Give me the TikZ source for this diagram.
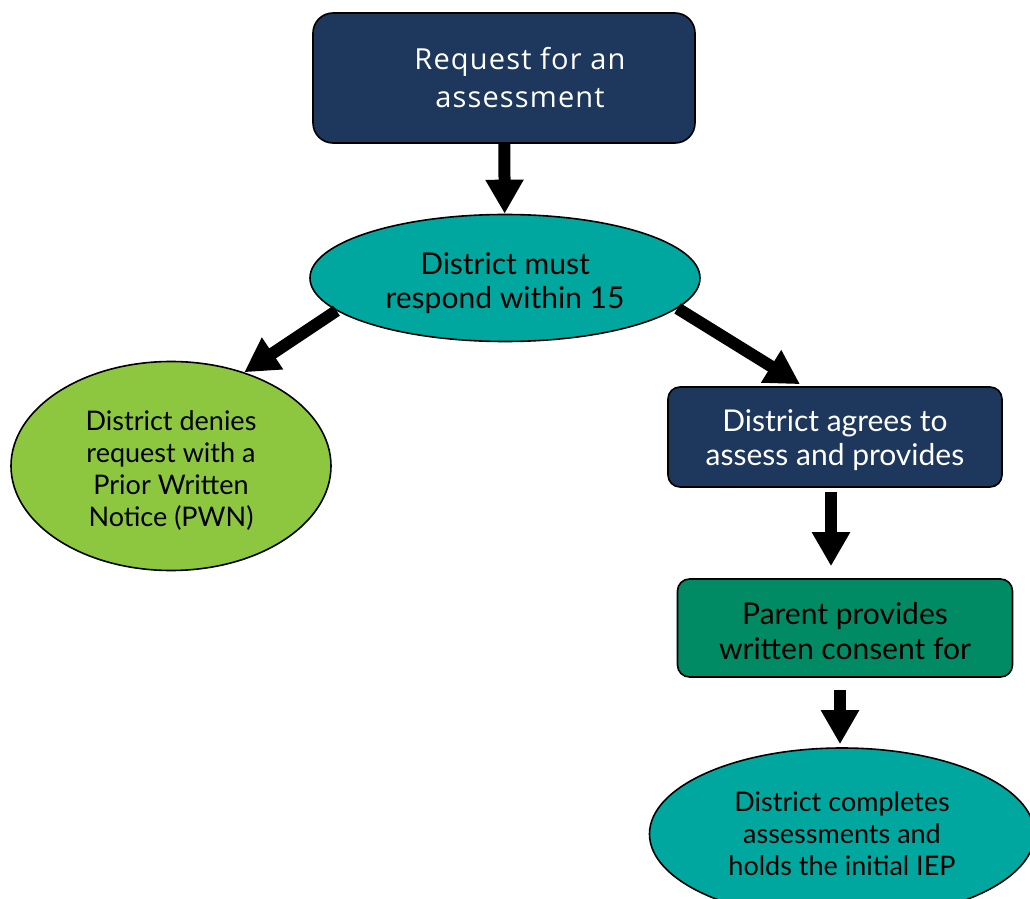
\documentclass[tikz,border=0pt]{standalone}
\usepackage{fontspec}
\setmainfont{Lato}
\newfontfamily\reqfont[LetterSpace=4.0]{Open Sans}
\usetikzlibrary{arrows.meta,shapes.geometric}

\definecolor{navyfill}{HTML}{1E375C}
\definecolor{tealfill}{HTML}{00A79E}
\definecolor{limefill}{HTML}{8DC63F}
\definecolor{greenfill}{HTML}{008B64}

\begin{document}
\begin{tikzpicture}[x=0.5pt,y=-0.5pt,line width=0.8pt,>={Triangle[width=18pt,length=17pt]}]
	\tikzstyle{box}=[rectangle, rounded corners=6pt, draw=black, align=center, inner sep=0pt]
	\tikzstyle{oval}=[ellipse, draw=black, align=center, inner sep=0pt]
	\tikzstyle{flow}=[->, line width=6pt]

	\useasboundingbox (0,0) rectangle (1030,899);
	\clip (0,0) rectangle (1030,899);

	\node [box, rounded corners=10pt, fill=navyfill, minimum width=191pt, minimum height=65pt,
		label={[text=white, align=center, xshift=8pt, font=\reqfont\fontsize{14.5}{19}\selectfont]center:Request for an\\assessment}] (req) at (504,78) {};
	\node [oval, fill=tealfill, minimum width=195pt, minimum height=63.5pt,
		label={[align=center, yshift=-2.5pt, font=\fontsize{15}{17}\selectfont]center:District must\\respond within 15}] (must) at (505,278) {};
	\node [oval, fill=limefill, minimum width=160pt, minimum height=104.5pt,
		label={[align=center, yshift=-2.5pt, font=\fontsize{13.5}{16}\selectfont]center:District denies\\request with a\\Prior Written\\Notice (PWN)}] (deny) at (171,466) {};
	\node [box, fill=navyfill, minimum width=167pt, minimum height=50pt,
		label={[text=white, align=center, yshift=-1.5pt, font=\fontsize{15}{17}\selectfont]center:District agrees to\\assess and provides}] (agree) at (835,437) {};
	\node [box, fill=greenfill, minimum width=167.5pt, minimum height=49pt,
		label={[align=center, yshift=-1.5pt, font=\fontsize{15}{17.5}\selectfont]center:Parent provides\\written consent for}] (parent) at (845,628) {};
	\node [oval, fill=tealfill, minimum width=192.5pt, minimum height=86pt, font=\fontsize{13.5}{16}\selectfont] (done) at (842,834) {District completes\\assessments and\\holds the initial IEP};

	\draw [flow] (req) -- (must);
	\draw [flow] (must.191) -- (deny.52);
	\draw [flow] (must.-10) -- ([xshift=-17.5pt,yshift=1pt]agree.north);
	\draw [flow, shorten <=2pt, shorten >=6pt] ([xshift=-2pt]agree.south) -- ([xshift=-2pt]agree.south |- parent.north);
	\draw [flow, shorten <=6pt, shorten >=1.5pt] ([xshift=-2.5pt]parent.south) -- ([xshift=-2.5pt]parent.south |- done.north);
\end{tikzpicture}
\end{document}
